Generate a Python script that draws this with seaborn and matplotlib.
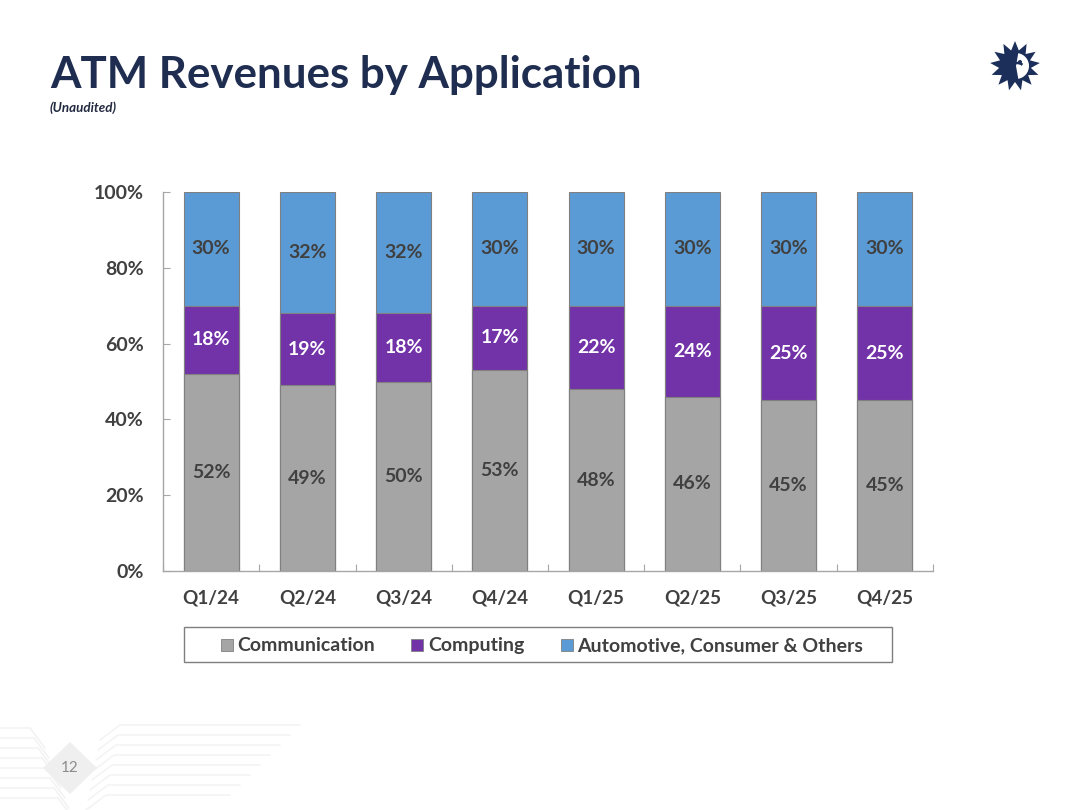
import numpy as np
import pandas as pd
import matplotlib
matplotlib.use("Agg")
import matplotlib.pyplot as plt
import seaborn as sns
from matplotlib.patches import Polygon, Wedge, Circle, Arc, Rectangle

# ---------------- data ----------------
quarters = ["Q1/24", "Q2/24", "Q3/24", "Q4/24", "Q1/25", "Q2/25", "Q3/25", "Q4/25"]
communication = [52, 49, 50, 53, 48, 46, 45, 45]
computing = [18, 19, 18, 17, 22, 24, 25, 25]
automotive = [30, 32, 32, 30, 30, 30, 30, 30]
series_names = ["Communication", "Computing", "Automotive, Consumer & Others"]
series_colors = ["#a5a5a5", "#7232a8", "#5b9bd5"]
label_colors = ["#404040", "#ffffff", "#404040"]
y_ticks = [0, 20, 40, 60, 80, 100]
y_tick_labels = ["0%", "20%", "40%", "60%", "80%", "100%"]

sns.set_theme(style="white")
plt.rcParams["font.family"] = ["Lato", "DejaVu Sans"]

W, H = 1080, 810
fig = plt.figure(figsize=(W / 100, H / 100), dpi=100)
fig.patch.set_facecolor("white")

# background / decoration axes in pixel coordinates
bg = fig.add_axes([0, 0, 1, 1], zorder=-5)
bg.set_xlim(0, W)
bg.set_ylim(H, 0)
bg.axis("off")

# faint circuit lines bottom-left
for i, yy in enumerate([728, 738, 748, 758, 768, 778, 788, 798]):
    bg.plot([0, 30 + i * 4, 45 + i * 4], [yy, yy, yy + 20], color="#f3f3f3", lw=1.2, zorder=-4)
for i, yy in enumerate([725, 735, 745, 755, 765, 775, 785, 795]):
    bg.plot([100 - i * 2, 120 - i * 2, 300 - i * 10], [yy + 15, yy, yy], color="#f4f4f4", lw=1.2, zorder=-4)
# page number diamond
bg.add_patch(Polygon([[70, 742], [97, 768], [70, 794], [43, 768]], closed=True,
                     facecolor="#efefef", edgecolor="none", zorder=-3))
bg.text(70, 768, "12", ha="center", va="center", fontsize=11, color="#8c8c8c", zorder=-2)

# logo (sun with face)
cx, cy, r_out, r_in, n = 1015, 66, 25, 16, 13
ang = np.linspace(np.pi / 2, np.pi / 2 + 2 * np.pi, 2 * n, endpoint=False)
rad = np.where(np.arange(2 * n) % 2 == 0, r_out, r_in)
star = np.column_stack([cx + rad * np.cos(ang), cy - rad * np.sin(ang)])
bg.add_patch(Polygon(star, closed=True, facecolor="#1c2f5a", edgecolor="none"))
bg.add_patch(Wedge((cx + 1, cy), 13, -80, 80, facecolor="white", edgecolor="none"))
bg.add_patch(Circle((cx + 5, cy - 4), 2.0, facecolor="#1c2f5a", edgecolor="none"))
bg.add_patch(Arc((cx + 2, cy + 2), 14, 10, theta1=200, theta2=330, color="#1c2f5a", lw=1.8))

# title
fig.text(50 / W, 1 - 88 / H, "ATM Revenues by Application", fontsize=31.6, fontweight="bold",
         color="#1f2d50", ha="left", va="baseline")
fig.text(50 / W, 1 - 112 / H, "(Unaudited)", fontsize=9.6, fontweight="bold", fontstyle="italic",
         color="#222a40", ha="left", va="baseline")

# ---------------- chart ----------------
x0, x1, ytop, ybot = 163, 933, 192, 571
ax = fig.add_axes([x0 / W, 1 - ybot / H, (x1 - x0) / W, (ybot - ytop) / H])

comm = np.array(communication, dtype=float)
comp = np.array(computing, dtype=float)
auto = np.array(automotive, dtype=float)
levels = [comm, comm + comp, comm + comp + auto]
bottoms = [np.zeros_like(comm), comm, comm + comp]
values = [comm, comp, auto]

for k in [2, 1, 0]:
    sns.barplot(x=quarters, y=levels[k], color=series_colors[k], saturation=1, width=0.57,
                edgecolor="#808080", linewidth=0.8, ax=ax, order=quarters)

for k in range(3):
    for i in range(len(quarters)):
        ax.text(i, bottoms[k][i] + values[k][i] / 2, f"{values[k][i]:.0f}%", ha="center", va="center",
                fontsize=14, fontweight="bold", color=label_colors[k])

ax.set_ylim(0, 100)
ax.set_xlim(-0.5, len(quarters) - 0.5)
ax.set_yticks(y_ticks)
ax.set_yticklabels(y_tick_labels)
ax.set_xticks(range(len(quarters)))
ax.set_xticklabels(quarters)
ax.set_xticks(np.arange(-0.5, len(quarters), 1.0), minor=True)
ax.tick_params(axis="x", which="major", length=0, pad=13, labelsize=13.6, labelcolor="#404040")
ax.tick_params(axis="x", which="minor", direction="in", length=5, width=0.8, color="#a6a6a6", bottom=True)
ax.tick_params(axis="y", which="major", direction="in", length=5, width=0.8, color="#a6a6a6",
               left=True, pad=14, labelsize=14, labelcolor="#404040")
for lab in ax.get_xticklabels() + ax.get_yticklabels():
    lab.set_fontweight("bold")
ax.set_xlabel("")
ax.set_ylabel("")
for s in ["top", "right"]:
    ax.spines[s].set_visible(False)
for s in ["left", "bottom"]:
    ax.spines[s].set_color("#a6a6a6")
    ax.spines[s].set_linewidth(1.0)
ax.set_facecolor("white")
ax.grid(False)

# ---------------- legend (drawn in pixel coordinates) ----------------
bg.add_patch(Rectangle((184, 627), 708, 35, facecolor="white", edgecolor="#7f7f7f", lw=1.0, zorder=1))
handle_x = [221, 411, 561]
text_x = [237, 428, 577]
for k in range(3):
    bg.add_patch(Rectangle((handle_x[k], 639), 12, 12, facecolor=series_colors[k],
                           edgecolor="#808080", lw=0.6, zorder=2))
    bg.text(text_x[k], 651, series_names[k], ha="left", va="baseline", fontsize=14,
            fontweight="bold", color="#404040", zorder=3)

fig.savefig("out.png", dpi=100, facecolor="white")
